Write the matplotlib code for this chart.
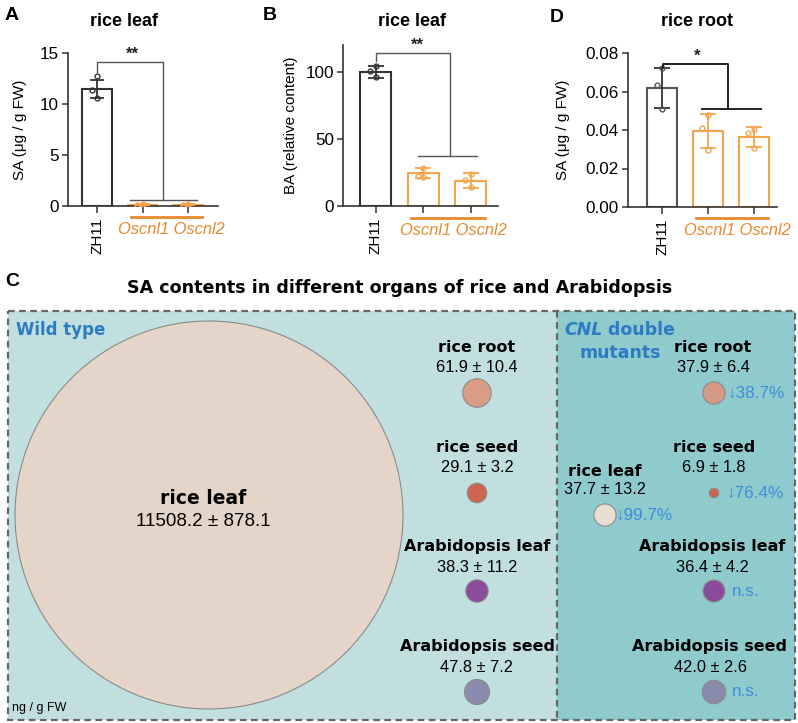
import matplotlib
matplotlib.use("Agg")
import matplotlib.pyplot as plt
from matplotlib.patches import Rectangle
from matplotlib.ticker import FormatStrFormatter

plt.rcParams['font.family'] = ['Liberation Sans', 'DejaVu Sans']
HEAVY = ['DejaVu Sans', 'Liberation Sans']

W, H = 798, 723
fig = plt.figure(figsize=(W / 100, H / 100), dpi=100)

# ---------------- data ----------------
genotypes = ['ZH11', 'Oscnl1', 'Oscnl2']

a_mean = [11.5, 0.12, 0.12]
a_sd = [0.9, 0.05, 0.05]
a_pts = [[12.75, 11.4, 10.6], [0.08, 0.12, 0.16], [0.10, 0.13, 0.15]]

b_mean = [100.0, 24.5, 19.0]
b_sd = [4.5, 3.8, 5.3]
b_pts = [[104.5, 100.5, 96.5], [28.5, 22.5, 21.5], [23.5, 19.5, 14.0]]

d_mean = [0.0617, 0.0394, 0.0363]
d_sd = [0.0105, 0.0090, 0.0050]
d_pts = [[0.0720, 0.0635, 0.0508], [0.0480, 0.0410, 0.0298], [0.0405, 0.0385, 0.0305]]

organs = ['rice leaf', 'rice root', 'rice seed', 'Arabidopsis leaf', 'Arabidopsis seed']
wt_mean = [11508.2, 61.9, 29.1, 38.3, 47.8]
wt_sd = [878.1, 10.4, 3.2, 11.2, 7.2]
cnl_mean = [37.7, 37.9, 6.9, 36.4, 42.0]
cnl_sd = [13.2, 6.4, 1.8, 4.2, 2.6]
cnl_change = ['\u219399.7%', '\u219338.7%', '\u219376.4%', 'n.s.', 'n.s.']

# ---------------- styles ----------------
ORANGE = '#F4A54C'
ORANGE_LINE = '#E8892C'
BLUE = '#2C7BC3'
BLUE2 = '#3A8FD8'
wt_colors = ['#E5D5C8', '#D99C84', '#CC6650', '#8B4D9B', '#8C8AAE']
cnl_colors = ['#E7DDD3', '#D49A85', '#C8644E', '#8A4C9A', '#8B89AD']


def px_axes(l, t, r, b):
    return fig.add_axes([l / W, 1 - b / H, (r - l) / W, (b - t) / H])


# ---------------- panel C (background) ----------------
axc = fig.add_axes([0, 0, 1, 1])
axc.set_xlim(0, W)
axc.set_ylim(H, 0)
axc.axis('off')

axc.add_patch(Rectangle((8, 311), 549, 409, fc='#C2DFE0', ec='none'))
axc.add_patch(Rectangle((557, 311), 238, 409, fc='#8FCACD', ec='none'))
axc.add_patch(Rectangle((8, 311), 787, 409, fill=False, ec='#666666', lw=1.6,
                        ls=(0, (3, 2))))
axc.plot([557, 557], [311, 720], color='#666666', lw=1.6, ls=(0, (3, 2)))

axc.text(5, 282, 'C', fontsize=14, fontweight='bold', va='center', ha='left')
axc.text(400, 288, 'SA contents in different organs of rice and Arabidopsis',
         fontsize=12.6, fontweight='bold', family=HEAVY, ha='center', va='center')
axc.text(16, 330, 'Wild type', fontsize=12, fontweight='bold', family=HEAVY,
         color=BLUE, ha='left', va='center')
t1 = axc.text(564, 330, 'CNL', fontsize=12.5, fontweight='bold', style='italic',
              family=HEAVY, color=BLUE, ha='left', va='center')
axc.annotate(' double', xy=(1, 0), xycoords=t1, fontsize=12.5, fontweight='bold',
             family=HEAVY, color=BLUE, ha='left', va='bottom')
axc.text(620, 353, 'mutants', fontsize=12.5, fontweight='bold', family=HEAVY,
         color=BLUE, ha='center', va='center')
axc.text(12, 708, 'ng / g FW', fontsize=9, ha='left', va='center')

K = 6.78  # marker area (pt^2) per ng/g FW
wt_xy = [(209, 515), (477, 393), (477, 493), (477, 591), (477, 692)]
wt_name_xy = [(203, 499), (477, 348), (477, 448), (477, 547), (477, 647)]
wt_val_y = [522, 368, 468, 567, 667]
cnl_xy = [(605, 515), (714, 393), (714, 493), (714, 591), (714, 692)]
cnl_name_xy = [(605, 471), (713, 348), (714, 448), (712, 547), (710, 647)]
cnl_val_y = [490, 368, 468, 567, 667]
cnl_chg_xy = [(616, 515), (728, 393), (727, 493), (732, 591), (732, 692)]

axc.scatter([p[0] for p in wt_xy], [p[1] for p in wt_xy],
            s=[K * v for v in wt_mean], c=wt_colors, edgecolors='#8a8a8a',
            linewidths=0.8, zorder=3)
axc.scatter([p[0] for p in cnl_xy], [p[1] for p in cnl_xy],
            s=[K * v for v in cnl_mean], c=cnl_colors, edgecolors='#8a8a8a',
            linewidths=0.8, zorder=3)

for i, name in enumerate(organs):
    big = (i == 0)
    x, y = wt_name_xy[i]
    axc.text(x, y, name, fontsize=13.5 if big else 11.5, fontweight='bold',
             family=HEAVY, ha='center', va='center', zorder=4)
    axc.text(x, wt_val_y[i], f'{wt_mean[i]:.1f} \u00b1 {wt_sd[i]:.1f}',
             fontsize=13.5 if big else 11.8, ha='center', va='center', zorder=4)
    x, y = cnl_name_xy[i]
    axc.text(x, y, name, fontsize=11.5, fontweight='bold', family=HEAVY,
             ha='center', va='center', zorder=4)
    axc.text(x, cnl_val_y[i], f'{cnl_mean[i]:.1f} \u00b1 {cnl_sd[i]:.1f}',
             fontsize=11.8, ha='center', va='center', zorder=4)
    cx, cy = cnl_chg_xy[i]
    axc.text(cx, cy, cnl_change[i], fontsize=12.3, color=BLUE2, ha='left',
             va='center', zorder=4)


# ---------------- bar panels ----------------
def bar_panel(ax, means, sds, pts, ylim, yticks, wt_color, ylabel, label_x,
              capsize):
    x = list(range(len(genotypes)))
    cols = [wt_color, ORANGE, ORANGE]
    for i in x:
        ax.bar(i, means[i], width=0.65, facecolor='white', edgecolor=cols[i],
               linewidth=1.5, zorder=2)
        ax.errorbar(i, means[i], yerr=sds[i], color=cols[i] if i else '#333333',
                    capsize=capsize, elinewidth=1.3, capthick=1.3, zorder=3)
        offs = [0.0, -0.12, 0.0]
        ax.plot([i + o for o in offs], pts[i], 'o', ms=3.5, mfc='none',
                mec=cols[i], mew=1.0, zorder=4)
    ax.set_ylim(*ylim)
    ax.set_yticks(yticks)
    ax.set_xticks(x)
    ax.set_xticklabels(['ZH11', '', ''], rotation=90, fontsize=11)
    ax.tick_params(axis='y', labelsize=12.3, length=4.5, width=1.1,
                   color='#333', pad=2)
    ax.tick_params(axis='x', length=5, width=1.1, color='#333')
    for s in ['top', 'right']:
        ax.spines[s].set_visible(False)
    for s in ['left', 'bottom']:
        ax.spines[s].set_color('#333333')
        ax.spines[s].set_linewidth(1.2)
    ax.set_facecolor('none')
    ax.set_ylabel(ylabel, fontsize=11)
    ax.yaxis.set_label_coords(label_x, 0.5)
    tr = ax.get_xaxis_transform()
    ax.plot([0.74, 2.3], [-0.072, -0.072], transform=tr, color=ORANGE_LINE,
            lw=2, clip_on=False)
    ax.text(1.63, -0.155, 'Oscnl1 Oscnl2', transform=tr, fontsize=11.8,
            style='italic', color=ORANGE_LINE, ha='center', va='center')


def bracket(ax, x_left, y_top, y_left_end, x_v, y_low, x_low0, x_low1, stars,
            star_x, color, lw):
    ax.plot([x_left, x_left, x_v, x_v], [y_left_end, y_top, y_top, y_low],
            color=color, lw=lw, zorder=5, clip_on=False)
    ax.plot([x_low0, x_low1], [y_low, y_low], color=color, lw=lw, zorder=5)
    ax.annotate(stars, xy=(star_x, y_top), xytext=(0, 0),
                textcoords='offset points', ha='center', va='bottom',
                fontsize=12, fontweight='bold', color='#222')


# Panel A
axA = px_axes(68, 53, 218, 206)
axA.set_xlim(-0.64, 2.66)
bar_panel(axA, a_mean, a_sd, a_pts, (0, 15), [0, 5, 10, 15], '#333333',
          'SA (\u03bcg / g FW)', -0.27, 5)
bracket(axA, 0, 14.15, 13.1, 1.45, 0.56, 0.73, 2.2, '**', 0.78, '#555555', 1.0)
fig.text(5 / W, 1 - 16 / H, 'A', fontsize=14, fontweight='bold', va='center')
fig.text(124 / W, 1 - 22 / H, 'rice leaf', fontsize=13, fontweight='bold',
         ha='center', va='center')

# Panel B
axB = px_axes(343, 45, 498, 206)
axB.set_xlim(-0.69, 2.57)
bar_panel(axB, b_mean, b_sd, b_pts, (0, 120), [0, 50, 100], '#333333',
          'BA (relative content)', -0.29, 5.5)
bracket(axB, 0, 114, 108, 1.56, 37.4, 0.88, 2.13, '**', 0.88, '#555555', 1.0)
fig.text(263 / W, 1 - 16 / H, 'B', fontsize=14, fontweight='bold', va='center')
fig.text(412 / W, 1 - 22 / H, 'rice leaf', fontsize=13, fontweight='bold',
         ha='center', va='center')

# Panel D
axD = px_axes(628, 53, 777, 207)
axD.set_xlim(-0.74, 2.5)
bar_panel(axD, d_mean, d_sd, d_pts, (0, 0.08), [0, 0.02, 0.04, 0.06, 0.08],
          '#555555', 'SA (\u03bcg / g FW)', -0.39, 6)
axD.yaxis.set_major_formatter(FormatStrFormatter('%.2f'))
bracket(axD, 0.02, 0.0745, 0.072, 1.43, 0.0511, 0.87, 2.15, '*', 0.76,
        '#222222', 1.4)
fig.text(550 / W, 1 - 18 / H, 'D', fontsize=14, fontweight='bold', va='center')
fig.text(697 / W, 1 - 22 / H, 'rice root', fontsize=13, fontweight='bold',
         ha='center', va='center')

fig.savefig('out.png', dpi=100)
